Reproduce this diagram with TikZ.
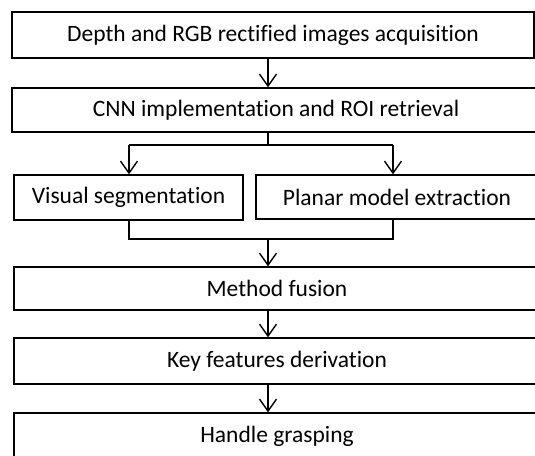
\documentclass[tikz,border=0pt]{standalone}
\usepackage{fontspec}
\setmainfont[Ligatures=NoCommon]{Carlito}
\usetikzlibrary{arrows.meta}

\tikzset{
  stage/.style={draw, line width=1.4pt, minimum height=#1, inner sep=0pt,
    font=\fontsize{23.5}{26}\selectfont},
  stage/.default=45pt,
  flow/.style={line width=1.4pt, -{Straight Barb[length=12pt,width=17pt,line width=1.4pt]}},
  link/.style={line width=1.4pt}
}

\begin{document}
\begin{tikzpicture}[x=1pt, y=-1pt]

	\useasboundingbox (0,0) rectangle (535,455);
	\clip (0,0) rectangle (535,455);

	\node[stage=46pt, minimum width=522pt] (acq) at (273,35) {Depth and RGB rectified images acquisition};
	\node[stage=44pt, minimum width=528pt] (cnn) at (276,110) {CNN implementation and ROI retrieval};
	\node[stage=45pt, minimum width=229pt] (vis) at (128.5,197.5) {Visual segmentation};
	\node[stage=44pt, minimum width=282pt] (plan) at (397,197) {Planar model extraction};
	\node[stage=43pt, minimum width=526pt] (fus) at (277,288.5) {Method fusion};
	\node[stage=46pt, minimum width=526pt] (key) at (277,361) {Key features derivation};
	\node[stage=47pt, minimum width=526pt] (hand) at (277,436.5) {Handle grasping};

	% vertical spine and branch points
	\coordinate (spine) at (268,0);
	\coordinate (split) at (0,145);
	\coordinate (merge) at (0,239);
	\coordinate (left) at (129,0);
	\coordinate (right) at (393,0);

	\draw[flow] (acq.south -| spine) -- (cnn.north -| spine);
	\draw[link] (cnn.south -| spine) -- (spine |- split);
	\draw[link] (left |- split) -- (right |- split);
	\draw[flow] (left |- split) -- (vis.north -| left);
	\draw[flow] (right |- split) -- (plan.north -| right);
	\draw[link] (vis.south -| left) -- (left |- merge) -- (right |- merge) -- (plan.south -| right);
	\draw[flow] (spine |- merge) -- (fus.north -| spine);
	\draw[flow] (fus.south -| spine) -- (key.north -| spine);
	\draw[flow] (key.south -| spine) -- (hand.north -| spine);

\end{tikzpicture}
\end{document}
